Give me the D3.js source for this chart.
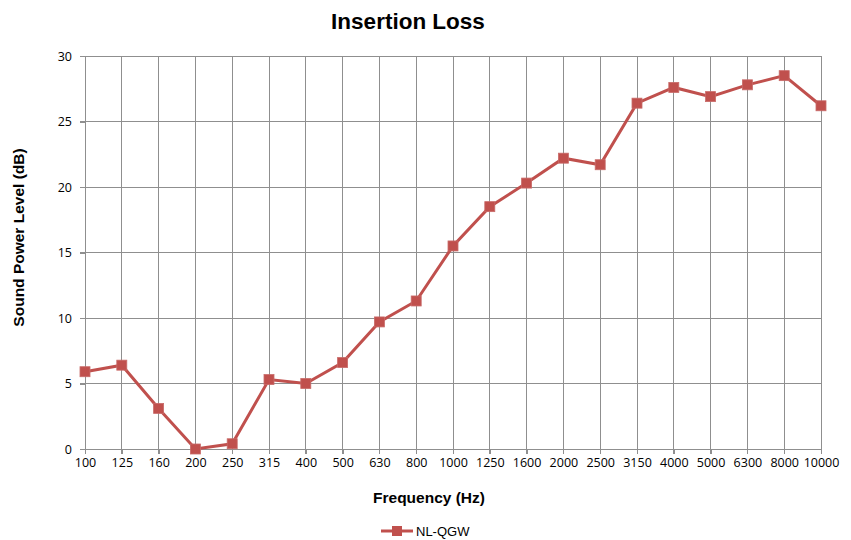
<!DOCTYPE html>
<meta charset="utf-8">
<style>
body { margin: 0; background: #fff; font-family: "Open Sans", Arial, sans-serif; }
.grid line { stroke: #8f8f8f; stroke-width: 1; shape-rendering: crispEdges; }
.axis path, .axis line { stroke: #8f8f8f; shape-rendering: crispEdges; }
.axis text { font-family: "Open Sans", sans-serif; font-size: 12.5px; fill: #000; }
.ttl { font-family: Arial, "Liberation Sans", sans-serif; font-weight: bold; fill: #000; }
</style>
<body>
<script src="https://d3js.org/d3.v7.min.js"></script>
<script>

// frequencies (Hz) and measured insertion loss (dB)
var freqs = ["100", "125", "160", "200", "250", "315", "400", "500", "630", "800", "1000",
             "1250", "1600", "2000", "2500", "3150", "4000", "5000", "6300", "8000", "10000"];
var lossNLQGW = [5.9, 6.4, 3.1, 0, 0.4, 5.3, 5.0, 6.6, 9.7, 11.3, 15.5,
                 18.5, 20.3, 22.2, 21.7, 26.4, 27.6, 26.9, 27.8, 28.5, 26.2];
var yTicks = [0, 5, 10, 15, 20, 25, 30];
var seriesName = "NL-QGW";

var W = 851, H = 540;
var margin = {top: 56, right: 30, bottom: 91, left: 85},
    width = W - margin.left - margin.right,
    height = H - margin.top - margin.bottom;

var red = "#c0504d";

var svg = d3.select("body").append("svg")
    .attr("width", W).attr("height", H);

var g = svg.append("g")
    .attr("transform", "translate(" + margin.left + "," + margin.top + ")");

var x = d3.scalePoint().domain(freqs).range([0, width]);
var y = d3.scaleLinear().domain([0, 30]).range([height, 0]);

// gridlines
g.append("g").attr("class", "grid")
  .selectAll("line").data(freqs).enter().append("line")
    .attr("x1", function(d) { return x(d); }).attr("x2", function(d) { return x(d); })
    .attr("y1", 0).attr("y2", height + 5);
g.append("g").attr("class", "grid")
  .selectAll("line").data(yTicks).enter().append("line")
    .attr("x1", -5).attr("x2", width)
    .attr("y1", function(d) { return y(d); }).attr("y2", function(d) { return y(d); });

// axes
var xAxis = g.append("g").attr("class", "axis")
    .attr("transform", "translate(0," + height + ")")
    .call(d3.axisBottom(x).tickSize(5).tickPadding(4));
var yAxis = g.append("g").attr("class", "axis")
    .call(d3.axisLeft(y).tickValues(yTicks).tickSize(5).tickPadding(8));
yAxis.select(".domain").remove();
xAxis.select(".domain").attr("d", "M0,0H" + width);

// line + markers
var line = d3.line()
    .x(function(d, i) { return x(freqs[i]); })
    .y(function(d) { return y(d); });
g.append("path").datum(lossNLQGW)
    .attr("fill", "none").attr("stroke", red).attr("stroke-width", 3)
    .attr("d", line);
g.selectAll(".pt").data(lossNLQGW).enter().append("rect")
    .attr("class", "pt")
    .attr("x", function(d, i) { return x(freqs[i]) - 5; })
    .attr("y", function(d) { return y(d) - 5; })
    .attr("width", 10).attr("height", 10)
    .attr("fill", red).attr("stroke", "#c96b69").attr("stroke-width", 0.8);

// titles
svg.append("text").attr("class", "ttl")
    .attr("x", 408).attr("y", 29).attr("text-anchor", "middle")
    .style("font-size", "22.5px").text("Insertion Loss");
svg.append("text").attr("class", "ttl")
    .attr("x", 429).attr("y", 503).attr("text-anchor", "middle")
    .style("font-size", "15.5px").text("Frequency (Hz)");
svg.append("text").attr("class", "ttl")
    .attr("transform", "translate(24," + (margin.top + height / 2 - 15) + ") rotate(-90)")
    .attr("text-anchor", "middle")
    .style("font-size", "15.5px").text("Sound Power Level (dB)");

// legend
var lg = svg.append("g").attr("transform", "translate(381,531)");
lg.append("line").attr("x1", 0).attr("x2", 32).attr("y1", 0).attr("y2", 0)
    .attr("stroke", red).attr("stroke-width", 3);
lg.append("rect").attr("x", 11).attr("y", -5).attr("width", 10).attr("height", 10)
    .attr("fill", red);
lg.append("text").attr("x", 35).attr("y", 4.5)
    .style("font-family", "Arial, 'Liberation Sans', sans-serif").style("font-size", "13px")
    .text(seriesName);

</script>
</body>
